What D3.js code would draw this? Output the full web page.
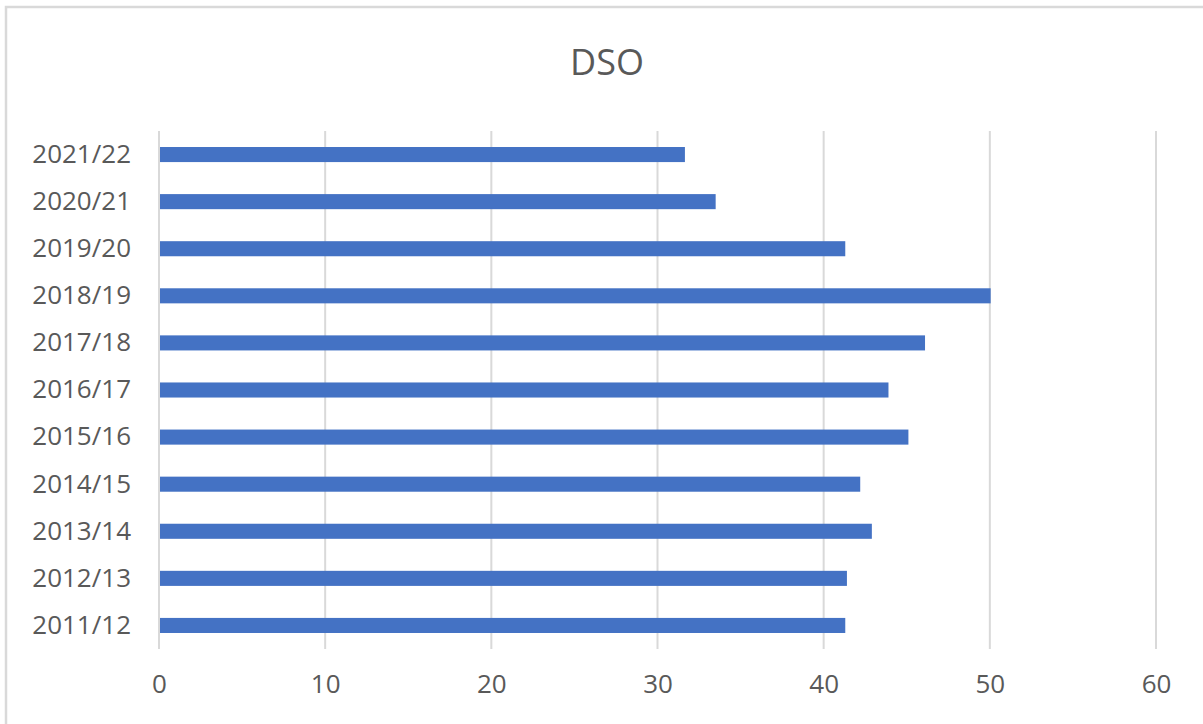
<!DOCTYPE html>
<html>
<head>
<meta charset="utf-8">
<script src="https://cdn.jsdelivr.net/npm/d3@7"></script>
<style>
html,body{margin:0;padding:0;background:#fff;}
svg{display:block;}
text{font-family:"Open Sans","Noto Sans",sans-serif;fill:#595959;}
</style>
</head>
<body>
<script>
const categories = ["2011/12","2012/13","2013/14","2014/15","2015/16","2016/17","2017/18","2018/19","2019/20","2020/21","2021/22"];
const values = [41.3, 41.4, 42.9, 42.2, 45.1, 43.9, 46.1, 50.05, 41.3, 33.5, 31.65];
const xTicks = [0, 10, 20, 30, 40, 50, 60];
const title = "DSO";

(function () {
const W = 1203, H = 724;
const svg = d3.select("body").append("svg").attr("width", W).attr("height", H);

// chart border (top and left visible)
svg.append("path")
  .attr("d", `M6,${H+5} L6,7 L${W+5},7`)
  .attr("fill", "none").attr("stroke", "#d9d9d9").attr("stroke-width", 2.5);

const mLeft = 159, mRight = 1156, mTop = 131, mBottom = 649;

const x = d3.scaleLinear().domain([0, 60]).range([mLeft, mRight]);
const y = d3.scaleBand().domain(categories.slice().reverse()).range([mTop, mBottom]).paddingInner(0.68).paddingOuter(0.34);

// gridlines
svg.append("g").selectAll("line").data(xTicks).join("line")
  .attr("x1", d => x(d)).attr("x2", d => x(d))
  .attr("y1", mTop).attr("y2", mBottom)
  .attr("stroke", "#d9d9d9").attr("stroke-width", 2);

// bars
svg.append("g").selectAll("rect").data(categories).join("rect")
  .attr("x", x(0) + 1)
  .attr("y", d => y(d))
  .attr("width", (d, i) => x(values[i]) - x(0) - 1)
  .attr("height", y.bandwidth())
  .attr("fill", "#4472C4");

// y axis labels
const yAxis = d3.axisLeft(y).tickSize(0).tickPadding(28);
const gy = svg.append("g").attr("transform", `translate(${mLeft},0)`).call(yAxis);
gy.select(".domain").remove();
gy.selectAll("text").style("font-size", "26px").attr("fill", "#595959")
  .style("font-family", '"Open Sans","Noto Sans",sans-serif');

// x axis labels
const xAxis = d3.axisBottom(x).tickValues(xTicks).tickSize(0).tickPadding(26);
const gx = svg.append("g").attr("transform", `translate(0,${mBottom})`).call(xAxis);
gx.select(".domain").remove();
gx.selectAll("text").style("font-size", "26px").attr("fill", "#595959")
  .style("font-family", '"Open Sans","Noto Sans",sans-serif');

// title
svg.append("text").attr("x", 607).attr("y", 75).attr("text-anchor", "middle")
  .style("font-size", "36px").text(title);
})();
</script>
</body>
</html>
